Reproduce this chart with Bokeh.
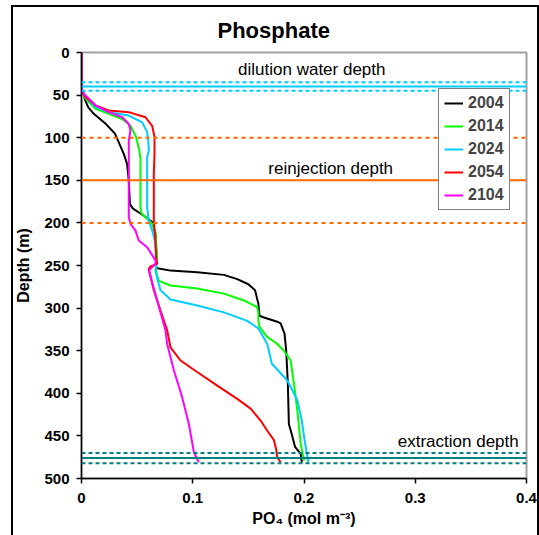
from bokeh.plotting import figure
from bokeh.models import (Range1d, FixedTicker, Span, Label, Legend, LegendItem, Title)
from bokeh.embed import file_html
from bokeh.resources import INLINE

FONT = "Liberation Sans"

# ---- data (depth in m, PO4 in mol m-3) ----
d2004 = [0, 40, 45, 48, 55, 64, 72, 84, 95, 107, 119, 131, 150, 178, 183, 189, 193, 199,
         213, 240, 253, 256, 258, 261, 266, 272, 279, 295, 309, 311, 316, 318, 330, 350,
         389, 436, 448, 463, 471, 481]
p2004 = [0, 0, 0.0005, 0.002, 0.003, 0.006, 0.011, 0.022, 0.030, 0.034, 0.038, 0.041,
         0.0425, 0.0435, 0.046, 0.053, 0.0575, 0.0635, 0.0665, 0.0674, 0.067, 0.080,
         0.104, 0.128, 0.140, 0.150, 0.156, 0.159, 0.160, 0.164, 0.176, 0.179, 0.1825,
         0.184, 0.1855, 0.1864, 0.189, 0.192, 0.197, 0.198]

d2014 = [0, 42, 48, 54, 60, 66, 72, 78, 86, 99, 115, 125, 150, 182, 189, 195, 201, 211,
         240, 255, 262, 268, 273.5, 277, 283, 291, 299, 306, 315, 322, 334, 341, 350,
         361.5, 389, 420, 459, 479]
p2014 = [0, 0, 0.001, 0.0036, 0.008, 0.0126, 0.0245, 0.0366, 0.044, 0.049, 0.052, 0.053,
         0.053, 0.053, 0.054, 0.059, 0.0635, 0.0665, 0.068, 0.067, 0.068, 0.0695, 0.080,
         0.104, 0.128, 0.146, 0.158, 0.159, 0.159, 0.160, 0.167, 0.175, 0.182, 0.188,
         0.191, 0.194, 0.197, 0.200]

d2024 = [0, 42, 47, 52.4, 64, 70, 74, 82, 93.5, 103, 115, 123, 150, 182, 197, 209, 219,
         235, 250, 256, 270, 279, 290, 297, 305, 315, 324, 333, 342, 365, 385, 408, 432,
         459, 481]
p2024 = [0, 0, 0.001, 0.0036, 0.0126, 0.0245, 0.0425, 0.0545, 0.059, 0.060, 0.0605,
         0.059, 0.059, 0.059, 0.0605, 0.0635, 0.0656, 0.067, 0.067, 0.0665, 0.069, 0.071,
         0.080, 0.104, 0.128, 0.149, 0.159, 0.163, 0.167, 0.171, 0.185, 0.194, 0.198,
         0.201, 0.204]

d2054 = [0, 42, 47, 52.4, 62, 68, 70, 76, 86, 99, 120, 142, 197, 221, 240, 248, 251, 254,
         279, 303, 326, 346, 361.5, 375, 391, 406.5, 418, 432, 444, 455, 466, 475, 481]
p2054 = [0, 0, 0.001, 0.0036, 0.0126, 0.0245, 0.0425, 0.0575, 0.0635, 0.0656, 0.0656,
         0.065, 0.065, 0.0665, 0.067, 0.068, 0.062, 0.0605, 0.065, 0.071, 0.077, 0.080,
         0.089, 0.104, 0.122, 0.140, 0.152, 0.161, 0.167, 0.173, 0.175, 0.176, 0.179]

d2104 = [0, 42, 48.5, 62, 70, 76, 84, 91.5, 103, 142, 193, 201, 209, 220.6, 228.5, 244,
         248, 256, 291, 326, 342, 373, 404.6, 436, 469, 481]
p2104 = [0, 0, 0.002, 0.0126, 0.0245, 0.0366, 0.0425, 0.044, 0.0425, 0.0425, 0.0425,
         0.044, 0.0485, 0.0515, 0.059, 0.0665, 0.0665, 0.0605, 0.068, 0.0755, 0.077,
         0.083, 0.0905, 0.0965, 0.101, 0.1054]

years = ["2004", "2014", "2024", "2054", "2104"]
colors = ["#000000", "#00FF00", "#00CCFF", "#FF0000", "#FF00FF"]
series_depth = [d2004, d2014, d2024, d2054, d2104]
series_po4 = [p2004, p2014, p2024, p2054, p2104]

dilution_depths = [35, 40, 45]
reinjection_depths = [100, 150, 200]
extraction_depths = [470, 476, 482]

x_ticks = [0, 0.1, 0.2, 0.3, 0.4]
x_tick_labels = ["0", "0.1", "0.2", "0.3", "0.4"]
y_ticks = [0, 50, 100, 150, 200, 250, 300, 350, 400, 450, 500]

# ---- figure ----
p = figure(width=539, height=535, output_backend="svg", toolbar_location=None,
           x_range=Range1d(0, 0.4), y_range=Range1d(500, 0),
           min_border_left=81, min_border_right=13, min_border_top=52,
           min_border_bottom=57, title=None)
p.background_fill_color = "white"
p.border_fill_color = None
# outer chart frame drawn as layered inset shadows on the figure's host element
p.styles = {
    "background-color": "white",
    "box-shadow": ("inset 11px 0 0 0 white, inset 0 5px 0 0 white, "
                   "inset 13px 0 0 0 black, inset 0 7px 0 0 black, "
                   "inset -2px 0 0 0 black"),
}
p.xgrid.visible = False
p.ygrid.visible = False
p.outline_line_color = "#A0A0A0"
p.outline_line_width = 2

title = Title(text="Phosphate", align="left", offset=136, text_font=FONT,
              text_font_size="22px", text_font_style="bold", text_color="black",
              standoff=19)
p.add_layout(title, "above")

for ax in (p.xaxis[0], p.yaxis[0]):
    ax.axis_line_color = "black"
    ax.axis_line_width = 1.5
    ax.major_tick_line_color = "black"
    ax.major_tick_line_width = 1.5
    ax.major_tick_out = 5
    ax.major_tick_in = 0
    ax.minor_tick_line_color = None
    ax.major_label_text_font = FONT
    ax.major_label_text_font_size = "15px"
    ax.major_label_text_font_style = "bold"
    ax.major_label_text_color = "black"
    ax.axis_label_text_font = FONT
    ax.axis_label_text_font_size = "16px"
    ax.axis_label_text_font_style = "bold"
    ax.axis_label_text_color = "black"

p.xaxis.ticker = FixedTicker(ticks=x_ticks)
p.xaxis.major_label_overrides = {t: l for t, l in zip(x_ticks, x_tick_labels)}
p.xaxis.major_label_standoff = 9
p.xaxis.axis_label = "PO\u2084 (mol m\u207b\u00b3)"
p.xaxis.axis_label_standoff = 4

p.yaxis.ticker = FixedTicker(ticks=y_ticks)
p.yaxis.major_label_standoff = 7
p.yaxis.axis_label = "Depth (m)"
p.yaxis.axis_label_standoff = 9

# ---- horizontal reference lines ----
for dd, dash in zip(dilution_depths, ["4 3", None, "4 3"]):
    kw = dict(location=dd, dimension="width", line_color="#00CCFF", line_width=2)
    if dash:
        kw["line_dash"] = dash
    p.add_layout(Span(**kw))
for dd, dash in zip(reinjection_depths, ["4 4", None, "4 4"]):
    kw = dict(location=dd, dimension="width", line_color="#FF6600", line_width=2)
    if dash:
        kw["line_dash"] = dash
    p.add_layout(Span(**kw))
for dd, dash in zip(extraction_depths, ["4 3", None, "4 3"]):
    kw = dict(location=dd, dimension="width", line_color="#008080", line_width=2)
    if dash:
        kw["line_dash"] = dash
    p.add_layout(Span(**kw))

# ---- curves ----
items = []
for yr, c, dd, pp in zip(years, colors, series_depth, series_po4):
    r = p.line(pp, dd, line_color=c, line_width=2)
    items.append(LegendItem(label=yr, renderers=[r]))

# ---- texts ----
for txt, x, y, align in [("dilution water depth", 0.207, 20, "center"),
                         ("reinjection depth", 0.224, 136, "center"),
                         ("extraction depth", 0.393, 457, "right")]:
    p.add_layout(Label(x=x, y=y, text=txt, text_align=align, text_baseline="middle",
                       text_font=FONT, text_font_size="17px", text_color="black"))

legend = Legend(items=items, location=(357, 268), border_line_color="black",
                border_line_width=1, background_fill_color="white",
                background_fill_alpha=1, label_text_font=FONT,
                label_text_font_size="16px", label_text_font_style="bold",
                glyph_width=19, glyph_height=16, label_height=16, spacing=5,
                padding=5, margin=0, label_standoff=5)
p.add_layout(legend)

open("out.html", "w").write(file_html(p, INLINE))
